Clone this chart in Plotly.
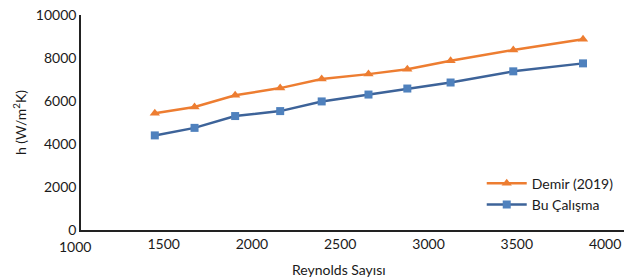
import plotly.graph_objects as go

reynolds = [1450, 1675, 1905, 2160, 2395, 2660, 2880, 3125, 3480, 3875]
demir_2019 = [5430, 5720, 6270, 6600, 7020, 7250, 7480, 7870, 8370, 8870]
bu_calisma = [4400, 4750, 5300, 5530, 5980, 6300, 6580, 6860, 7380, 7750]
x_ticks = [1500, 2000, 2500, 3000, 3500, 4000]
y_ticks = [0, 2000, 4000, 6000, 8000, 10000]
x_min, x_max = 1032, 4107

FONT = "Lato, Open Sans, sans-serif"
TXT = "#1a1a1a"

fig = go.Figure()
fig.add_trace(go.Scatter(
    x=reynolds, y=demir_2019, name="Demir (2019)", mode="lines+markers",
    line=dict(color="#ED7D31", width=2.5),
    marker=dict(symbol="triangle-up", size=9, color="#ED7D31"),
))
fig.add_trace(go.Scatter(
    x=reynolds, y=bu_calisma, name="Bu Çalışma", mode="lines+markers",
    line=dict(color="#3D6399", width=2.5),
    marker=dict(symbol="square", size=8, color="#4F81BD"),
))

fig.update_layout(
    width=632, height=280,
    margin=dict(l=81, r=8, t=15, b=50, autoexpand=False),
    paper_bgcolor="white", plot_bgcolor="white",
    font=dict(family=FONT, size=14, color=TXT),
    showlegend=True,
    legend=dict(x=0.738, y=0.29, xanchor="left", yanchor="top",
                bgcolor="rgba(0,0,0,0)", font=dict(size=14),
                tracegroupgap=0, itemwidth=40),
    xaxis=dict(
        range=[x_min, x_max], tickvals=x_ticks, ticktext=[str(v) for v in x_ticks],
        showgrid=False, zeroline=False, automargin=False,
        showline=True, linecolor="#222222", linewidth=1.5, ticks="",
        ticklabeloverflow="allow",
    ),
    yaxis=dict(
        range=[0, 10000], tickvals=y_ticks, ticktext=[str(v) for v in y_ticks],
        showgrid=False, zeroline=False, automargin=False,
        showline=True, linecolor="#222222", linewidth=1.5, ticks="",
        ticklabeloverflow="allow",
        title=dict(text="h (W/m<sup>2</sup>K)", font=dict(size=14), standoff=6),
    ),
    annotations=[
        dict(x=(1000 - x_min) / (x_max - x_min), y=0, xref="paper", yref="paper",
             text="1000", showarrow=False, xanchor="center",
             yanchor="top", yshift=-6, font=dict(family=FONT, size=14, color=TXT)),
        dict(x=0.475, y=-0.184, xref="paper", yref="paper",
             text="Reynolds Sayısı", showarrow=False, xanchor="center",
             yanchor="middle", font=dict(family=FONT, size=14, color=TXT)),
    ],
)

fig.write_html("out.html", config={"displayModeBar": False},
               post_script="document.body.style.margin='0';")
